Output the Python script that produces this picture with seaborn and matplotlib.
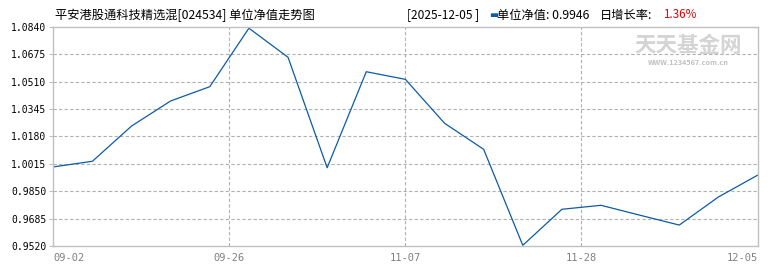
import matplotlib
matplotlib.use("Agg")
import matplotlib.pyplot as plt
import seaborn as sns
import pandas as pd

# ---- data ----
nav_values = [0.9996, 1.0030, 1.0242, 1.0393, 1.0479, 1.0831, 1.0656, 0.9991,
              1.0569, 1.0523, 1.0259, 1.0102, 0.9524, 0.9741, 0.9765, 0.9705,
              0.9646, 0.9815, 0.9946]
point_index = list(range(len(nav_values)))
x_tick_pos = [0, 4.5, 9, 13.5, 18]
x_tick_labels = ["09-02", "09-26", "11-07", "11-28", "12-05"]
y_ticks = [0.9520, 0.9685, 0.9850, 1.0015, 1.0180, 1.0345, 1.0510, 1.0675, 1.0840]
title_text = "平安港股通科技精选混[024534] 单位净值走势图"
latest_date = "[2025-12-05 ]"
latest_nav = "0.9946"
latest_growth = "1.36%"

df = pd.DataFrame({"idx": point_index, "nav": nav_values})

sns.set_theme(style="white")
plt.rcParams["font.family"] = ["Noto Sans CJK SC", "DejaVu Sans"]

fig = plt.figure(figsize=(7.7, 2.7), dpi=100)
ax = fig.add_axes([0.0692, 0.0889, 0.9146, 0.8122])

line_color = "#0d5aa7"
sns.lineplot(data=df, x="idx", y="nav", ax=ax, color=line_color, linewidth=0.9)

ax.set_xlim(0, 18)
ax.set_ylim(y_ticks[0], y_ticks[-1])
ax.set_yticks(y_ticks)
ax.set_yticklabels([f"{v:.4f}" for v in y_ticks], fontsize=7, color="#000000",
                   family=["DejaVu Sans Mono"])
ax.set_xticks(x_tick_pos)
ax.set_xticklabels(x_tick_labels, fontsize=7.5, color="#808080",
                   family=["DejaVu Sans Mono"])
ax.set_xlabel("")
ax.set_ylabel("")
xl = ax.get_xticklabels()
xl[0].set_horizontalalignment("left")
xl[-1].set_horizontalalignment("right")

grid_color = "#b0b0b0"
for v in y_ticks[1:-1]:
    ax.axhline(v, color=grid_color, linestyle=(0, (3, 2)), linewidth=0.8, zorder=0)
for p in x_tick_pos[1:-1]:
    ax.axvline(p, color=grid_color, linestyle=(0, (3, 2)), linewidth=0.8, zorder=0)

for s in ax.spines.values():
    s.set_visible(True)
    s.set_color("#c0c0c0")
    s.set_linewidth(1.0)

ax.tick_params(axis="y", length=3, width=0.8, color="#c0c0c0", pad=2, left=True)
ax.tick_params(axis="x", length=0, pad=5)

# watermark
fig.text(0.8935, 0.83, "天天基金网", fontsize=15.5, color="#d4d4d4",
         ha="center", va="center", fontweight="bold", zorder=0)
fig.text(0.8935, 0.768, "WWW.1234567.com.cn", fontsize=5.2, color="#c0c0c0",
         ha="center", va="center", fontweight="bold")

# header texts
ty = 1 - 15 / 270
fig.text(55 / 770, ty, title_text, fontsize=8.8, color="#000000",
         ha="left", va="center")
fig.text(407 / 770, ty, latest_date, fontsize=8.6, color="#000000",
         ha="left", va="center")
fig.text(489 / 770, ty, "▬", fontsize=7, color=line_color,
         ha="left", va="center", family=["DejaVu Sans"])
fig.text(497 / 770, ty, "单位净值: " + latest_nav, fontsize=8.8,
         color="#000000", ha="left", va="center")
fig.text(600 / 770, ty, "日增长率:", fontsize=8.8, color="#000000",
         ha="left", va="center")
fig.text(663 / 770, ty, latest_growth, fontsize=8.4, color="#e00000",
         ha="left", va="center")

fig.savefig("out.png", dpi=100)
